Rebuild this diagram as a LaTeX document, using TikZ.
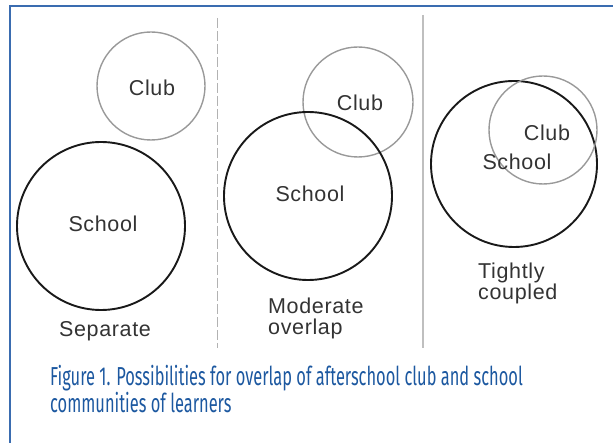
\documentclass[tikz,border=0pt]{standalone}
\usepackage{fontspec}
\newfontfamily\labelfont[LetterSpace=3]{Liberation Sans}
\newfontfamily\capfont[FakeStretch=0.632]{Fira Sans}
\usetikzlibrary{positioning}
\definecolor{frameblue}{RGB}{58,108,176}
\definecolor{capblue}{RGB}{28,88,160}
\begin{document}
\begin{tikzpicture}[x=1pt,y=-1pt,
 school node/.style={circle,draw=black!90,line width=1.9pt,inner sep=0pt},
 club node/.style={circle,draw=black!40,line width=1.4pt,inner sep=0pt},
 word/.style={text=black!80,font=\labelfont\fontsize{21.5}{21.5}\selectfont,inner sep=0pt}]
  \useasboundingbox (0,0) rectangle (613,443);
  % frame
  \draw[frameblue,line width=2pt] (10,443) -- (10,6) -- (613,6);
  \draw[black!30,line width=1pt,dash pattern=on 10pt off 3pt] (217,18) -- (217,348);
  \draw[black!25,line width=1.2pt] (423,15) -- (423,348);

  % separate
  \node[club node,minimum size=108pt] (club1) at (151,86) {};
  \node[school node,minimum size=168pt] (school1) at (101,226) {};
  \node[word] (c1) at (152,88) {Club};
  \node[word] (s1) at (103,224) {School};
  \node[word,anchor=base] (sep) at (105,337) {Separate};

  % moderate overlap
  \node[club node,minimum size=110pt] (club2) at (358,102) {};
  \node[school node,minimum size=168pt] (school2) at (308,196) {};
  \node[word] (c2) at (360,103) {Club};
  \node[word] (s2) at (310,194) {School};
  \node[word,align=left,anchor=base west] (mod) at (268,335) {Moderate\\overlap};

  % tightly coupled
  \node[school node,minimum size=166pt] (school3) at (514,164) {};
  \node[club node,minimum size=108pt] (club3) at (543,130) {};
  \node[word] (c3) at (547,133) {Club};
  \node[word] (s3) at (517,162) {School};
  \node[word,align=left,anchor=base west] (tight) at (478,300) {Tightly\\coupled};

  \node[text=capblue,font=\capfont\fontsize{26}{28}\selectfont,align=left,anchor=base west,inner sep=0pt]
    (cap) at (50,413) {Figure 1. Possibilities for overlap of afterschool club and school\\communities of learners};
\end{tikzpicture}
\end{document}
